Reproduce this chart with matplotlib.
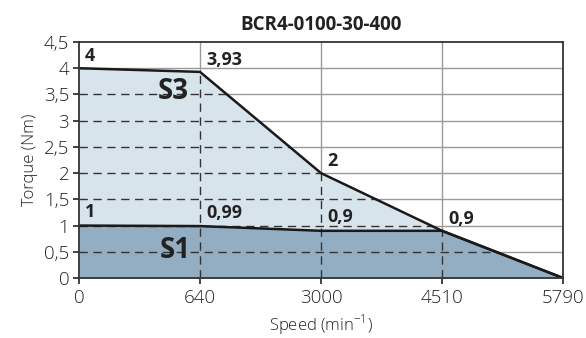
import matplotlib
matplotlib.use("Agg")
import matplotlib.pyplot as plt
import numpy as np

title = "BCR4-0100-30-400"
speed_ticks = [0, 640, 3000, 4510, 5790]
s3_torque = [4, 3.93, 2, 0.9, 0]
s1_torque = [1, 0.99, 0.9, 0.9, 0]
s3_labels = ["4", "3,93", "2", "0,9", None]
s1_labels = ["1", "0,99", "0,9", None, None]
y_ticks = [0, 0.5, 1, 1.5, 2, 2.5, 3, 3.5, 4, 4.5]
y_tick_labels = ["0", "0,5", "1", "1,5", "2", "2,5", "3", "3,5", "4", "4,5"]

plt.rcParams['font.family'] = ['Open Sans', 'DejaVu Sans']

fig = plt.figure(figsize=(5.86, 3.38), dpi=100)
ax = fig.add_axes([79/586, 1-278/338, (563-79)/586, (278-42)/338])

xpos = np.arange(len(speed_ticks))
ax.set_xlim(0, len(speed_ticks)-1)
ax.set_ylim(0, 4.5)

# gray solid grid
for y in y_ticks[1:-1]:
    ax.axhline(y, color="#9a9a9a", lw=1.0, zorder=1)
for x in xpos[1:-1]:
    ax.axvline(x, color="#9a9a9a", lw=1.0, zorder=1)

ax.fill_between(xpos, 0, s3_torque, color="#d8e4ec", lw=0, zorder=2)
ax.fill_between(xpos, 0, s1_torque, color="#93aec2", lw=0, zorder=3)

# dashed grid within S3 region
clip_poly = plt.Polygon(np.column_stack([np.r_[xpos, xpos[::-1]], np.r_[s3_torque, np.zeros(len(xpos))]]),
                        transform=ax.transData, facecolor="none", edgecolor="none")
ax.add_patch(clip_poly)
for y in y_ticks[1:-1]:
    l, = ax.plot([0, len(xpos)-1], [y, y], color="#333333", lw=1.0, ls=(0, (6, 4)), zorder=4)
    l.set_clip_path(clip_poly)
for x in xpos[1:-1]:
    l, = ax.plot([x, x], [0, 4.5], color="#333333", lw=1.0, ls=(0, (6, 4)), zorder=4)
    l.set_clip_path(clip_poly)

ax.plot(xpos, s3_torque, color="#1a1a1a", lw=1.8, zorder=5, solid_capstyle="round")
ax.plot(xpos, s1_torque, color="#1a1a1a", lw=1.8, zorder=5, solid_capstyle="round")

for i, lab in enumerate(s3_labels):
    if lab:
        ax.text(xpos[i] + 0.05, s3_torque[i] + 0.06, lab, fontsize=13, fontweight="bold",
                color="#222222", ha="left", va="bottom", zorder=6)
for i, lab in enumerate(s1_labels):
    if lab:
        ax.text(xpos[i] + 0.05, s1_torque[i] + 0.08 if i < 2 else 1.0, lab, fontsize=13, fontweight="bold",
                color="#222222", ha="left", va="bottom", zorder=6)

ax.text(0.78, 3.55, "S3", fontsize=20, fontweight="bold", color="#222222", ha="center", va="center", zorder=6)
ax.text(0.8, 0.52, "S1", fontsize=20, fontweight="bold", color="#222222", ha="center", va="center", zorder=6)

ax.set_xticks(xpos)
ax.set_xticklabels([str(s) for s in speed_ticks])
ax.set_yticks(y_ticks)
ax.set_yticklabels(y_tick_labels)
ax.tick_params(direction="out", length=4, width=1.2, labelsize=13.5, colors="#222222", pad=3)
ax.tick_params(axis="x", pad=4)
for lab in ax.get_xticklabels() + ax.get_yticklabels():
    lab.set_fontweight("light")
for sp in ax.spines.values():
    sp.set_color("#333333")
    sp.set_linewidth(1.3)
    sp.set_zorder(7)

ax.set_xlabel("Speed (min$^{\\mathregular{-1}}$)", fontsize=12, color="#222222", labelpad=4, fontweight="light")
ax.set_ylabel("Torque (Nm)", fontsize=12, color="#222222", labelpad=4, fontweight="light")
ax.set_title(title, fontsize=13.5, fontweight="bold", color="#222222", pad=9)

fig.savefig("out.png", dpi=100)
